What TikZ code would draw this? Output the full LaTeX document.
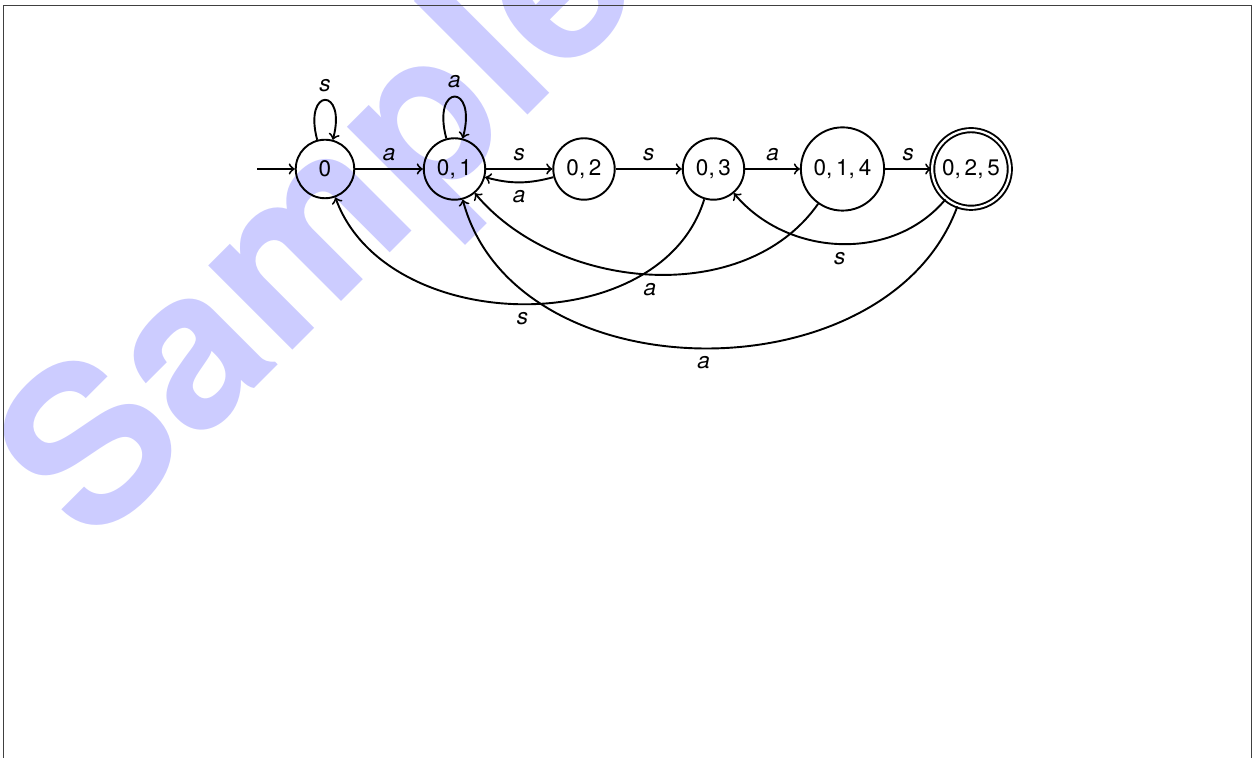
\documentclass[tikz,border=0pt]{standalone}
\usepackage{fontspec}
\setmainfont{TeX Gyre Heros}
\definecolor{wmblue}{HTML}{CCCCFF}

\begin{document}
\begin{tikzpicture}[x=0.4444pt,y=0.4444pt,
  st/.style={circle,draw,line width=0.85pt,inner sep=0pt,
             font=\fontsize{10}{12}\selectfont},
  acc/.style={st,double,double distance=1pt},
  tr/.style={->,line width=0.85pt},
  lbl/.style={font=\fontsize{10}{12}\selectfont\itshape,inner sep=3.33pt}]
  \useasboundingbox (0,0) rectangle (1253,758);

  % watermark behind everything
  \node[rotate=45,anchor=base west,inner sep=0pt,text=wmblue,
        font=\fontsize{98}{98}\selectfont\bfseries] (wm) at (92,207) {Sample};

  % page frame
  \draw[black!75,line width=0.5pt] (3.7,-10) rectangle (1251.5,752.3);

  % states
  \node[st,minimum size=26pt]   (q0)   at (325,589)   {0};
  \node[st,minimum size=27.3pt] (q01)  at (454.5,589) {0,\,1};
  \node[st,minimum size=27.3pt] (q02)  at (584,589)   {0,\,2};
  \node[st,minimum size=27.3pt] (q03)  at (713.5,589) {0,\,3};
  \node[st,minimum size=37pt]   (q014) at (842.5,589) {0,\,1,\,4};
  \node[acc,minimum size=34.5pt] (q025) at (971,589)  {0,\,2,\,5};
  \coordinate (init) at (257,589);

  % transitions
  \draw[tr] (init) -- (q0);
  \draw[tr] (q0) to[loop above,looseness=9] node[lbl,above] {s} (q0);
  \draw[tr] (q01) to[loop above,looseness=9] node[lbl,above] {a} (q01);
  \draw[tr] (q0) -- node[lbl,above] {a} (q01);
  \draw[tr] (q01) -- node[lbl,above] {s} (q02);
  \draw[tr] (q02) to[bend left=15] node[lbl,below] {a} (q01);
  \draw[tr] (q02) -- node[lbl,above] {s} (q03);
  \draw[tr] (q03) -- node[lbl,above] {a} (q014);
  \draw[tr] (q014) -- node[lbl,above] {s} (q025);
  \draw[tr] (q03) to[out=253,in=290,looseness=1.03] node[lbl,below] {s} (q0);
  \draw[tr] (q014) to[out=235,in=310,looseness=0.95] node[lbl,below] {a} (q01);
  \draw[tr] (q025) to[out=230,in=310,looseness=1] node[lbl,below] {s} (q03);
  \draw[tr] (q025) to[out=250,in=285,looseness=1.05] node[lbl,below] {a} (q01);
\end{tikzpicture}
\end{document}
